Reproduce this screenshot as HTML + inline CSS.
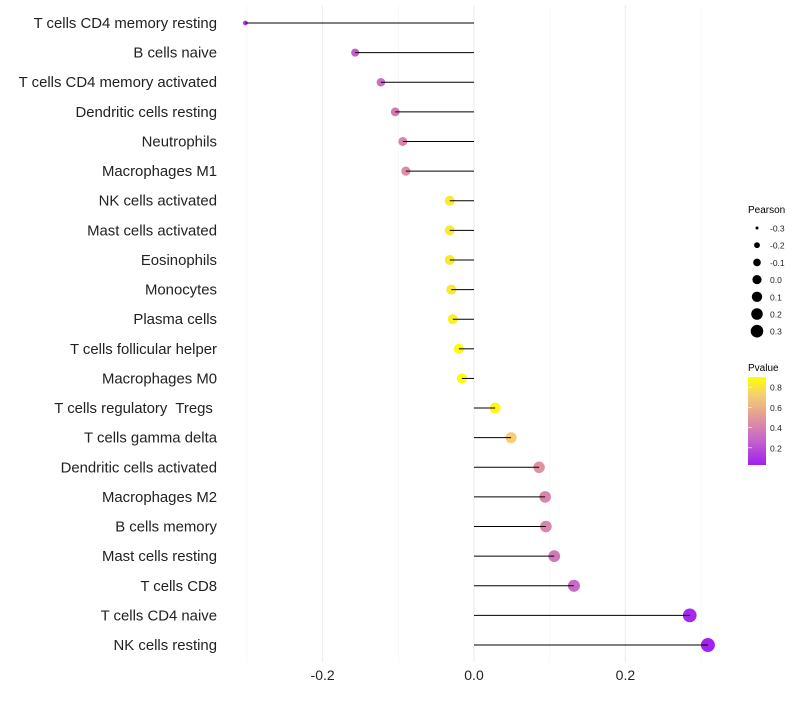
<!DOCTYPE html>
<html><head><meta charset="utf-8"><style>
body{margin:0;background:#fff;font-family:"Liberation Sans",sans-serif}
text{white-space:pre}
</style></head><body>
<svg id="c" width="800" height="700" xmlns="http://www.w3.org/2000/svg">
<defs><linearGradient id="pg" x1="0" y1="1" x2="0" y2="0">
<stop offset="0" stop-color="#a020f0"/><stop offset="0.3" stop-color="#c868c8"/><stop offset="0.55" stop-color="#e39a98"/><stop offset="0.8" stop-color="#f5d070"/><stop offset="1" stop-color="#ffff00"/></linearGradient></defs>
<g id="grid"></g><g id="points"></g><g id="marks"></g><g id="labels"></g><g id="legend"></g>
</svg>
<script>
const categories=["T cells CD4 memory resting","B cells naive","T cells CD4 memory activated","Dendritic cells resting","Neutrophils","Macrophages M1","NK cells activated","Mast cells activated","Eosinophils","Monocytes","Plasma cells","T cells follicular helper","Macrophages M0","T cells regulatory  Tregs ","T cells gamma delta","Dendritic cells activated","Macrophages M2","B cells memory","Mast cells resting","T cells CD8","T cells CD4 naive","NK cells resting"];
const pearson=[-0.302,-0.157,-0.123,-0.104,-0.094,-0.090,-0.032,-0.032,-0.032,-0.030,-0.028,-0.020,-0.016,0.028,0.049,0.086,0.094,0.095,0.106,0.132,0.285,0.309];
const pvalue=[0.12,0.25,0.32,0.38,0.42,0.45,0.82,0.82,0.82,0.82,0.84,0.88,0.9,0.86,0.72,0.48,0.42,0.42,0.36,0.3,0.06,0.04];
const xTicks=[-0.2,0.0,0.2];
const legendSizes=[-0.3,-0.2,-0.1,0.0,0.1,0.2,0.3];
const pTicks=[0.8,0.6,0.4,0.2];
const NS="http://www.w3.org/2000/svg";
const X=v=>474+v*757;
const Y=i=>23+i*29.62;
const R=v=>Math.sqrt(Math.max(2,16+70.8*(v+0.157)));
const RL=v=>Math.sqrt(Math.max(1,2.25+62*(v+0.3)));
const stops=[[0,[160,32,240]],[0.3,[200,104,200]],[0.55,[227,154,152]],[0.8,[245,208,112]],[1,[255,255,0]]];
function col(p){const t=Math.min(1,Math.max(0,(p-0.03)/0.87));for(let k=1;k<stops.length;k++){if(t<=stops[k][0]){const a=stops[k-1],b=stops[k],f=(t-a[0])/(b[0]-a[0]);return "rgb("+a[1].map((c,j)=>Math.round(c+(b[1][j]-c)*f)).join(",")+")";}}return "rgb(255,255,0)";}
function mk(tag,at,parent){const e=document.createElementNS(NS,tag);for(const k in at)e.setAttribute(k,at[k]);document.getElementById(parent).appendChild(e);return e;}
[-0.3,-0.1,0.1,0.3].forEach(v=>{const l=mk("line",{x1:X(v),x2:X(v),y1:5,y2:662,stroke:"#f4f4f4","stroke-width":0.6},"grid");});
xTicks.forEach(v=>{const l=mk("line",{x1:X(v),x2:X(v),y1:5,y2:662,stroke:"#ebebeb","stroke-width":1},"grid");
const t=mk("text",{x:X(v),y:680,"text-anchor":"middle","font-size":14,fill:"#222"},"labels");t.textContent=v.toFixed(1);});
categories.forEach((c,i)=>{const y=Y(i);
const d=mk("circle",{cx:X(pearson[i]),cy:y,r:R(pearson[i]),fill:col(pvalue[i])},"points");
const s=mk("line",{x1:X(0),x2:X(pearson[i]),y1:y,y2:y,stroke:"#000","stroke-width":1},"marks");
const t=mk("text",{x:217,y:y+5,"text-anchor":"end","font-size":14.9,fill:"#222"},"labels");t.textContent=c;});
let t=mk("text",{x:748,y:213,"font-size":10,fill:"#000"},"legend");t.textContent="Pearson";
legendSizes.forEach((v,k)=>{const y=228+k*17.2;const c=mk("circle",{cx:757,cy:y,r:RL(v),fill:"#000"},"legend");
const l=mk("text",{x:770,y:y+3.5,"font-size":8.5,fill:"#222"},"legend");l.textContent=v.toFixed(1);});
t=mk("text",{x:748,y:371,"font-size":10,fill:"#000"},"legend");t.textContent="Pvalue";
const bar=mk("rect",{x:748,y:377,width:18,height:88,fill:"url(#pg)"},"legend");
pTicks.forEach(p=>{const y=465-(p-0.03)/0.87*88;const l=mk("text",{x:770,y:y+3.5,"font-size":8.5,fill:"#222"},"legend");l.textContent=p.toFixed(1);
const tk=mk("line",{x1:748,x2:752,y1:y,y2:y,stroke:"#fff","stroke-width":0.6},"legend");});
</script>
</body></html>
